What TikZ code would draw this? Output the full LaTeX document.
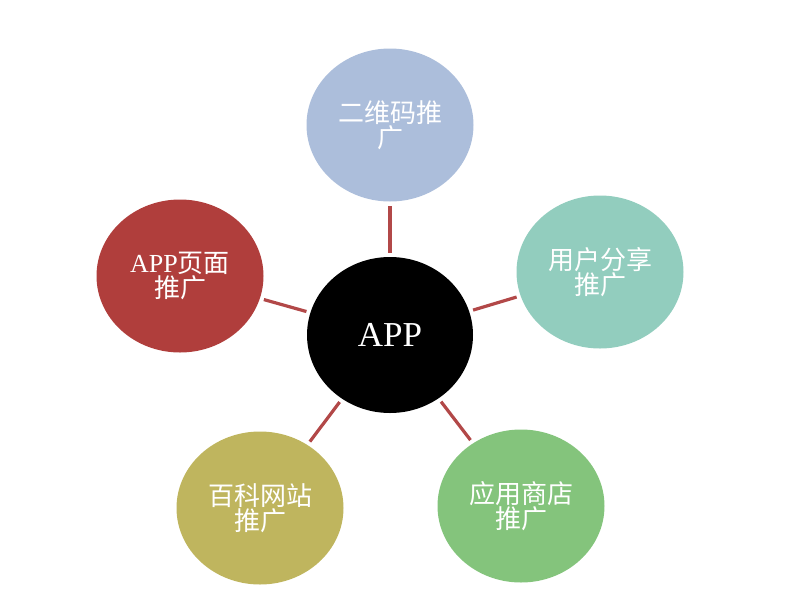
\documentclass[tikz,border=0pt]{standalone}
\usepackage{fontspec}
\setmainfont{Liberation Serif}
\newfontfamily\cjk{Noto Sans CJK SC}
\usetikzlibrary{shapes.geometric}
\definecolor{qrblue}{RGB}{172,190,219}
\definecolor{pagered}{RGB}{176,62,60}
\definecolor{shareteal}{RGB}{146,205,190}
\definecolor{wikiolive}{RGB}{191,181,94}
\definecolor{storegreen}{RGB}{132,196,124}
\definecolor{spokered}{RGB}{178,72,72}
\begin{document}
\begin{tikzpicture}[x=1pt,y=-1pt,
  bubble/.style={ellipse,minimum width=167pt,minimum height=153pt,inner sep=0pt,text=white,align=center,font=\cjk\fontsize{26}{25}\selectfont},
  spoke/.style={draw=spokered,line width=3.2pt,shorten <=4pt,shorten >=4pt}]

\useasboundingbox (0,0) rectangle (812,595);

\node[bubble,fill=black,minimum width=166pt,minimum height=156pt,font=\fontsize{35}{40}\selectfont] (app) at (390,335) {APP};

\foreach \name/\pos/\col/\txt in {{qr/(390,125)/qrblue/{二维码推\\广}},{share/(600,272)/shareteal/{用户分享\\推广}},{store/(521,506)/storegreen/{应用商店\\推广}},{wiki/(260,508)/wikiolive/{百科网站\\推广}},{page/(180,276)/pagered/{{\rmfamily APP}页面\\推广}}} \node[bubble,fill=\col] (\name) at \pos {\txt};

\foreach \name in {qr,share,store,wiki,page} \draw[spoke] (app) -- (\name);

\end{tikzpicture}
\end{document}
